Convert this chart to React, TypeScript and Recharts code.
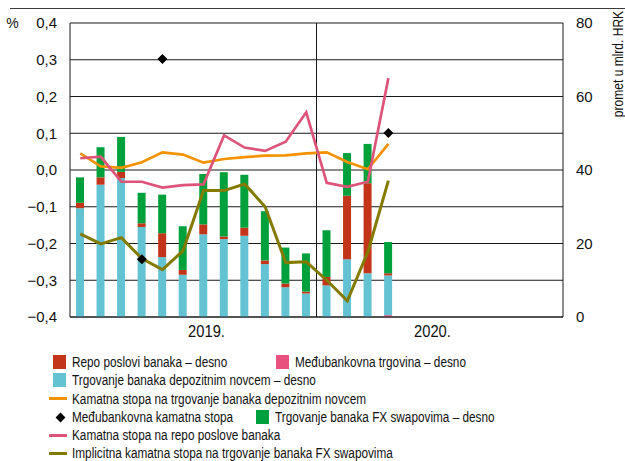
import React from "react";
import {
  Bar,
  CartesianGrid,
  ComposedChart,
  Line,
  ReferenceLine,
  XAxis,
  YAxis,
} from "recharts";

document.body.style.margin = "0";

const months = [
  "1/19", "2/19", "3/19", "4/19", "5/19", "6/19", "7/19", "8/19", "9/19", "10/19", "11/19", "12/19",
  "1/20", "2/20", "3/20", "4/20", "5/20", "6/20", "7/20", "8/20", "9/20", "10/20", "11/20", "12/20",
];
const yearLabels = ["2019.", "2020."];

// volumes, mlrd. HRK (right axis)
const interbankVolume = [0, 0, 0, 0, 0, 0, 0, 0, 0, 0, 0, 0, 0, 0, 0, 0.5];
const depositVolume = [29.6, 36.0, 37.8, 24.5, 16.3, 11.5, 22.5, 21.2, 22.1, 14.4, 8.1, 6.4, 8.6, 15.7, 11.9, 10.8];
const repoVolume = [1.5, 2.0, 1.7, 1.0, 6.5, 1.3, 2.7, 0.7, 2.2, 1.0, 1.0, 0.5, 2.3, 17.3, 24.5, 0.6];
const swapVolume = [6.9, 8.2, 9.5, 8.3, 10.5, 11.9, 13.7, 17.5, 14.4, 13.4, 9.8, 10.4, 12.7, 11.6, 10.7, 8.5];

// rates, % (left axis)
const depositRate = [0.045, 0.010, 0.006, 0.021, 0.048, 0.042, 0.020, 0.030, 0.035, 0.039, 0.040, 0.045, 0.048, 0.022, 0.002, 0.071];
const repoRate = [0.032, 0.036, -0.032, -0.032, -0.048, -0.041, -0.039, 0.094, 0.061, 0.052, 0.077, 0.157, -0.035, -0.046, -0.032, 0.250];
const swapRate = [-0.174, -0.201, -0.184, -0.241, -0.271, -0.220, -0.056, -0.056, -0.038, -0.100, -0.252, -0.250, -0.300, -0.356, -0.223, -0.029];
const interbankRate = [null, null, null, -0.243, 0.302, null, null, null, null, null, null, null, null, null, null, 0.101];

const leftTicks = [-0.4, -0.3, -0.2, -0.1, 0, 0.1, 0.2, 0.3, 0.4];
const rightTicks = [0, 20, 40, 60, 80];

const data = months.map((m, i) => ({
  m,
  ibVol: interbankVolume[i] ?? null,
  depVol: depositVolume[i] ?? null,
  repoVol: repoVolume[i] ?? null,
  swapVol: swapVolume[i] ?? null,
  depRate: depositRate[i] ?? null,
  repoRate: repoRate[i] ?? null,
  swapRate: swapRate[i] ?? null,
  ibRate: interbankRate[i] ?? null,
}));

const C = {
  red: "#c2351b",
  pink: "#e8507e",
  blue: "#63c3d3",
  green: "#00a03c",
  orange: "#f39200",
  pinkLine: "#dc5479",
  olive: "#837b00",
};

const FONT = "'Liberation Sans', Arial, sans-serif";

const fmtLeft = (v: number) => v.toFixed(1).replace(".", ",").replace("-", "\u2212");

const YearTick = (props: any) => {
  const { x, y, index } = props;
  const label = index === 6 ? yearLabels[0] : index === 17 ? yearLabels[1] : null;
  if (!label) return <g />;
  return (
    <text
      transform={`translate(${x + 3},${y}) scale(0.92,1)`}
      dy="0.78em"
      textAnchor="middle"
      fontSize={16}
      fill="#111"
      fontFamily={FONT}
    >
      {label}
    </text>
  );
};

const Diamond = (props: any) => {
  const { cx, cy, value } = props;
  if (value == null || cy == null) return <g key={props.index} />;
  const r = 5;
  return (
    <path
      key={props.index}
      d={`M${cx},${cy - r}L${cx + r},${cy}L${cx},${cy + r}L${cx - r},${cy}Z`}
      fill="#000"
    />
  );
};

const legendRows = [
  [
    { label: "Repo poslovi banaka \u2013 desno", color: C.red, kind: "box", left: 53 },
    { label: "Me\u0111ubankovna trgovina \u2013 desno", color: C.pink, kind: "box", left: 276 },
  ],
  [{ label: "Trgovanje banaka depozitnim novcem \u2013 desno", color: C.blue, kind: "box", left: 53 }],
  [{ label: "Kamatna stopa na trgovanje banaka depozitnim novcem", color: C.orange, kind: "line", left: 53 }],
  [
    { label: "Me\u0111ubankovna kamatna stopa", color: "#000", kind: "diamond", left: 53 },
    { label: "Trgovanje banaka FX swapovima \u2013 desno", color: C.green, kind: "box", left: 256 },
  ],
  [{ label: "Kamatna stopa na repo poslove banaka", color: C.pinkLine, kind: "line", left: 53 }],
  [{ label: "Implicitna kamatna stopa na trgovanje banaka FX swapovima", color: C.olive, kind: "line", left: 53 }],
];
const rowY = [361.5, 379.5, 398.5, 417, 435, 453];

const LegendMarker = ({ kind, color }: { kind: string; color: string }) => {
  if (kind === "box")
    return <div style={{ width: 13, height: 14, background: color, flex: "none" }} />;
  if (kind === "line")
    return <div style={{ width: 18, height: 3, background: color, marginLeft: -4, marginRight: -1, flex: "none" }} />;
  return (
    <div style={{ width: 13, display: "flex", justifyContent: "center", flex: "none" }}>
      <div style={{ width: 7, height: 7, background: color, transform: "rotate(45deg)", marginLeft: 2 }} />
    </div>
  );
};

export default function App() {
  return (
    <div style={{ position: "relative", width: 625, height: 461, background: "#fff", fontFamily: FONT }}>
      <div style={{ position: "absolute", left: 10, right: 0, top: 8, height: 1, background: "#3a3a3a" }} />
      <div style={{ position: "absolute", left: 0, top: 0 }}>
        <ComposedChart
          width={625}
          height={340}
          data={data}
          margin={{ top: 23, right: 0, bottom: 0, left: 0 }}
          barCategoryGap={0}
        >
          <CartesianGrid yAxisId="left" vertical={false} stroke="#1a1a1a" strokeWidth={1} />
          <XAxis
            dataKey="m"
            height={23}
            interval={0}
            tickLine={false}
            axisLine={{ stroke: "#1a1a1a" }}
            tick={<YearTick />}
          />
          <YAxis
            yAxisId="left"
            width={70}
            domain={[-0.4, 0.4]}
            ticks={leftTicks}
            tickFormatter={fmtLeft}
            tickLine={false}
            tickMargin={7}
            axisLine={{ stroke: "#1a1a1a" }}
            tick={{ fontSize: 15, fill: "#111", fontFamily: FONT }}
            label={() => (
              <text x={12.5} y={23} textAnchor="middle" dominantBaseline="central" fontSize={14} fill="#111" fontFamily={FONT}>
                %
              </text>
            )}
          />
          <YAxis
            yAxisId="right"
            orientation="right"
            width={62}
            domain={[0, 80]}
            ticks={rightTicks}
            tickLine={false}
            tickMargin={7}
            axisLine={{ stroke: "#1a1a1a" }}
            tick={{ fontSize: 15, fill: "#111", fontFamily: FONT, textAnchor: "start" }}
            label={() => (
              <text
                transform="translate(618,64) rotate(-90) scale(0.86,1)"
                textAnchor="middle"
                dominantBaseline="central"
                fontSize={14}
                fill="#111"
                fontFamily={FONT}
              >
                promet u mlrd. HRK
              </text>
            )}
          />
          <ReferenceLine yAxisId="left" x="12/19" position="end" stroke="#1a1a1a" strokeWidth={1} />
          <Bar yAxisId="right" dataKey="ibVol" stackId="v" fill={C.pink} barSize={8} isAnimationActive={false} />
          <Bar yAxisId="right" dataKey="depVol" stackId="v" fill={C.blue} barSize={8} isAnimationActive={false} />
          <Bar yAxisId="right" dataKey="repoVol" stackId="v" fill={C.red} barSize={8} isAnimationActive={false} />
          <Bar yAxisId="right" dataKey="swapVol" stackId="v" fill={C.green} barSize={8} isAnimationActive={false} />
          <Line yAxisId="left" dataKey="depRate" stroke={C.orange} strokeWidth={2.7} dot={false} isAnimationActive={false} />
          <Line yAxisId="left" dataKey="repoRate" stroke={C.pinkLine} strokeWidth={2.7} dot={false} isAnimationActive={false} />
          <Line yAxisId="left" dataKey="swapRate" stroke={C.olive} strokeWidth={3} dot={false} isAnimationActive={false} />
          <Line
            yAxisId="left"
            dataKey="ibRate"
            stroke="none"
            dot={<Diamond />}
            activeDot={false}
            isAnimationActive={false}
          />
        </ComposedChart>
      </div>
      {legendRows.map((row, r) =>
        row.map((item) => (
          <div
            key={item.label}
            style={{
              position: "absolute",
              left: item.left,
              top: rowY[r] - 10,
              height: 20,
              display: "flex",
              alignItems: "center",
              gap: 6,
              fontSize: 15.5,
              color: "#111",
              whiteSpace: "nowrap",
            }}
          >
            <LegendMarker kind={item.kind} color={item.color} />
            <span style={{ display: "inline-block", transform: "scaleX(0.76)", transformOrigin: "left center" }}>
              {item.label}
            </span>
          </div>
        ))
      )}
    </div>
  );
}
